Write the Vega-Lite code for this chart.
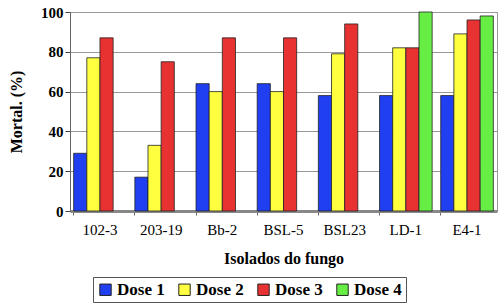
{
  "$schema": "https://vega.github.io/schema/vega-lite/v6.json",
  "width": 427,
  "height": 199,
  "autosize": {"type": "none"},
  "padding": {"left": 70, "top": 12, "right": 2, "bottom": 94},
  "background": "white",
  "config": {
    "font": "Liberation Serif, Times New Roman, serif",
    "view": {"stroke": "#999999", "strokeWidth": 1}
  },
  "data": {
    "values": [
      {"isolado": "102-3", "dose": "Dose 1", "mort": 29},
      {"isolado": "102-3", "dose": "Dose 2", "mort": 77},
      {"isolado": "102-3", "dose": "Dose 3", "mort": 87},
      {"isolado": "203-19", "dose": "Dose 1", "mort": 17},
      {"isolado": "203-19", "dose": "Dose 2", "mort": 33},
      {"isolado": "203-19", "dose": "Dose 3", "mort": 75},
      {"isolado": "Bb-2", "dose": "Dose 1", "mort": 64},
      {"isolado": "Bb-2", "dose": "Dose 2", "mort": 60},
      {"isolado": "Bb-2", "dose": "Dose 3", "mort": 87},
      {"isolado": "BSL-5", "dose": "Dose 1", "mort": 64},
      {"isolado": "BSL-5", "dose": "Dose 2", "mort": 60},
      {"isolado": "BSL-5", "dose": "Dose 3", "mort": 87},
      {"isolado": "BSL23", "dose": "Dose 1", "mort": 58},
      {"isolado": "BSL23", "dose": "Dose 2", "mort": 79},
      {"isolado": "BSL23", "dose": "Dose 3", "mort": 94},
      {"isolado": "LD-1", "dose": "Dose 1", "mort": 58},
      {"isolado": "LD-1", "dose": "Dose 2", "mort": 82},
      {"isolado": "LD-1", "dose": "Dose 3", "mort": 82},
      {"isolado": "LD-1", "dose": "Dose 4", "mort": 100},
      {"isolado": "E4-1", "dose": "Dose 1", "mort": 58},
      {"isolado": "E4-1", "dose": "Dose 2", "mort": 89},
      {"isolado": "E4-1", "dose": "Dose 3", "mort": 96},
      {"isolado": "E4-1", "dose": "Dose 4", "mort": 98}
    ]
  },
  "mark": {"type": "bar", "stroke": "#222222", "strokeWidth": 0.8},
  "encoding": {
    "x": {
      "field": "isolado",
      "type": "nominal",
      "sort": ["102-3", "203-19", "Bb-2", "BSL-5", "BSL23", "LD-1", "E4-1"],
      "scale": {"paddingInner": 0.14, "paddingOuter": 0.06},
      "axis": {
        "title": "Isolados do fungo",
        "titleFont": "Liberation Serif, serif",
        "titleFontSize": 16,
        "titleFontWeight": "bold",
        "titlePadding": 13,
        "titleColor": "black",
        "labelFont": "Liberation Serif, serif",
        "labelFontSize": 15,
        "labelColor": "black",
        "labelAngle": 0,
        "labelPadding": 7,
        "bandPosition": 0,
        "domainColor": "#888888",
        "domainWidth": 3,
        "tickColor": "#666666",
        "tickSize": 4
      }
    },
    "xOffset": {
      "field": "dose",
      "type": "nominal",
      "scale": {"domain": ["Dose 1", "Dose 2", "Dose 3", "Dose 4"], "paddingInner": 0, "paddingOuter": 0}
    },
    "y": {
      "field": "mort",
      "type": "quantitative",
      "scale": {"domain": [0, 100], "nice": false},
      "axis": {
        "title": "Mortal. (%)",
        "titleFont": "Liberation Serif, serif",
        "titleFontSize": 16,
        "titleFontWeight": "bold",
        "titleColor": "black",
        "titlePadding": 16,
        "labelFont": "Liberation Serif, serif",
        "labelFontSize": 15,
        "labelFontWeight": "bold",
        "labelColor": "black",
        "values": [0, 20, 40, 60, 80, 100],
        "grid": true,
        "gridColor": "#999999",
        "gridWidth": 1,
        "domainColor": "#666666",
        "tickColor": "#444444",
        "tickSize": 5,
        "labelPadding": 2
      }
    },
    "color": {
      "field": "dose",
      "type": "nominal",
      "scale": {
        "domain": ["Dose 1", "Dose 2", "Dose 3", "Dose 4"],
        "range": ["#1f3ff0", "#ffff40", "#e83232", "#66ee44"]
      },
      "legend": {
        "title": null,
        "orient": "none",
        "direction": "horizontal",
        "legendX": 23,
        "legendY": 265,
        "symbolType": "square",
        "symbolSize": 130,
        "symbolStrokeColor": "#222222",
        "symbolStrokeWidth": 1,
        "symbolOpacity": 1,
        "labelFont": "Liberation Serif, serif",
        "labelFontSize": 17,
        "labelFontWeight": "bold",
        "labelColor": "black",
        "labelOffset": 3,
        "columnPadding": 11,
        "strokeColor": "#555555",
        "padding": 4
      }
    }
  }
}
